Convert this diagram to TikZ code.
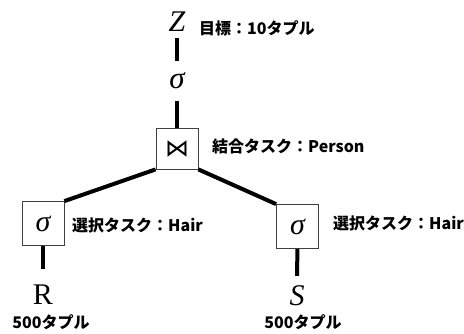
\documentclass[tikz,border=0pt]{standalone}
\usepackage{fontspec}
\newfontfamily\jp{Noto Sans CJK JP}
\newfontfamily\mserif{Liberation Serif}
\newfontfamily\msym{DejaVu Sans}
\begin{document}
\begin{tikzpicture}[x=1pt,y=-1pt,
  lbl/.style={font=\jp\bfseries\fontsize{16}{18}\selectfont, anchor=west, inner sep=0},
  sym/.style={inner sep=0, font=\mserif\fontsize{30}{32}\selectfont},
  opbox/.style={draw=black!75, line width=0.8pt, minimum width=42pt, minimum height=44pt, inner sep=0, font=\mserif\itshape\fontsize{30}{32}\selectfont},
  edge/.style={line width=4pt}]
\useasboundingbox (0,0) rectangle (464,333);
\node[sym, font=\mserif\itshape\fontsize{30}{32}\selectfont, minimum height=32pt] (z) at (177,22) {Z};
\node[sym, font=\mserif\itshape\fontsize{31}{32}\selectfont, minimum height=40pt] (s1) at (177,81) {σ};
\node[opbox, minimum height=41pt, font=\msym\fontsize{24}{26}\selectfont] (j) at (177,148.5) {⋈};
\node[opbox] (l) at (43,223.5) {σ};
\node[opbox] (r) at (297.5,226.5) {σ};
\node[sym, minimum height=52pt] (R) at (43,295) {R};
\node[sym, font=\mserif\itshape\fontsize{30}{32}\selectfont, minimum height=40pt] (S) at (297,296) {S};
\draw[edge] (z) -- (s1);
\draw[edge] (s1) -- (j);
\draw[edge] (j.south west) -- (l.north east);
\draw[edge] (j.south east) -- (r.north west);
\draw[edge] (l) -- (R);
\draw[edge] (r) -- (S);
\node[lbl] (tz) at (199,28) {目標：10タプル};
\node[lbl] (tj) at (212,146) {結合タスク：Person};
\node[lbl] (tl) at (72,225) {選択タスク：Hair};
\node[lbl] (tr) at (333,223) {選択タスク：Hair};
\node[lbl, anchor=center] (tR) at (51,322) {500タプル};
\node[lbl, anchor=center] (tS) at (303,322) {500タプル};
\end{tikzpicture}
\end{document}
